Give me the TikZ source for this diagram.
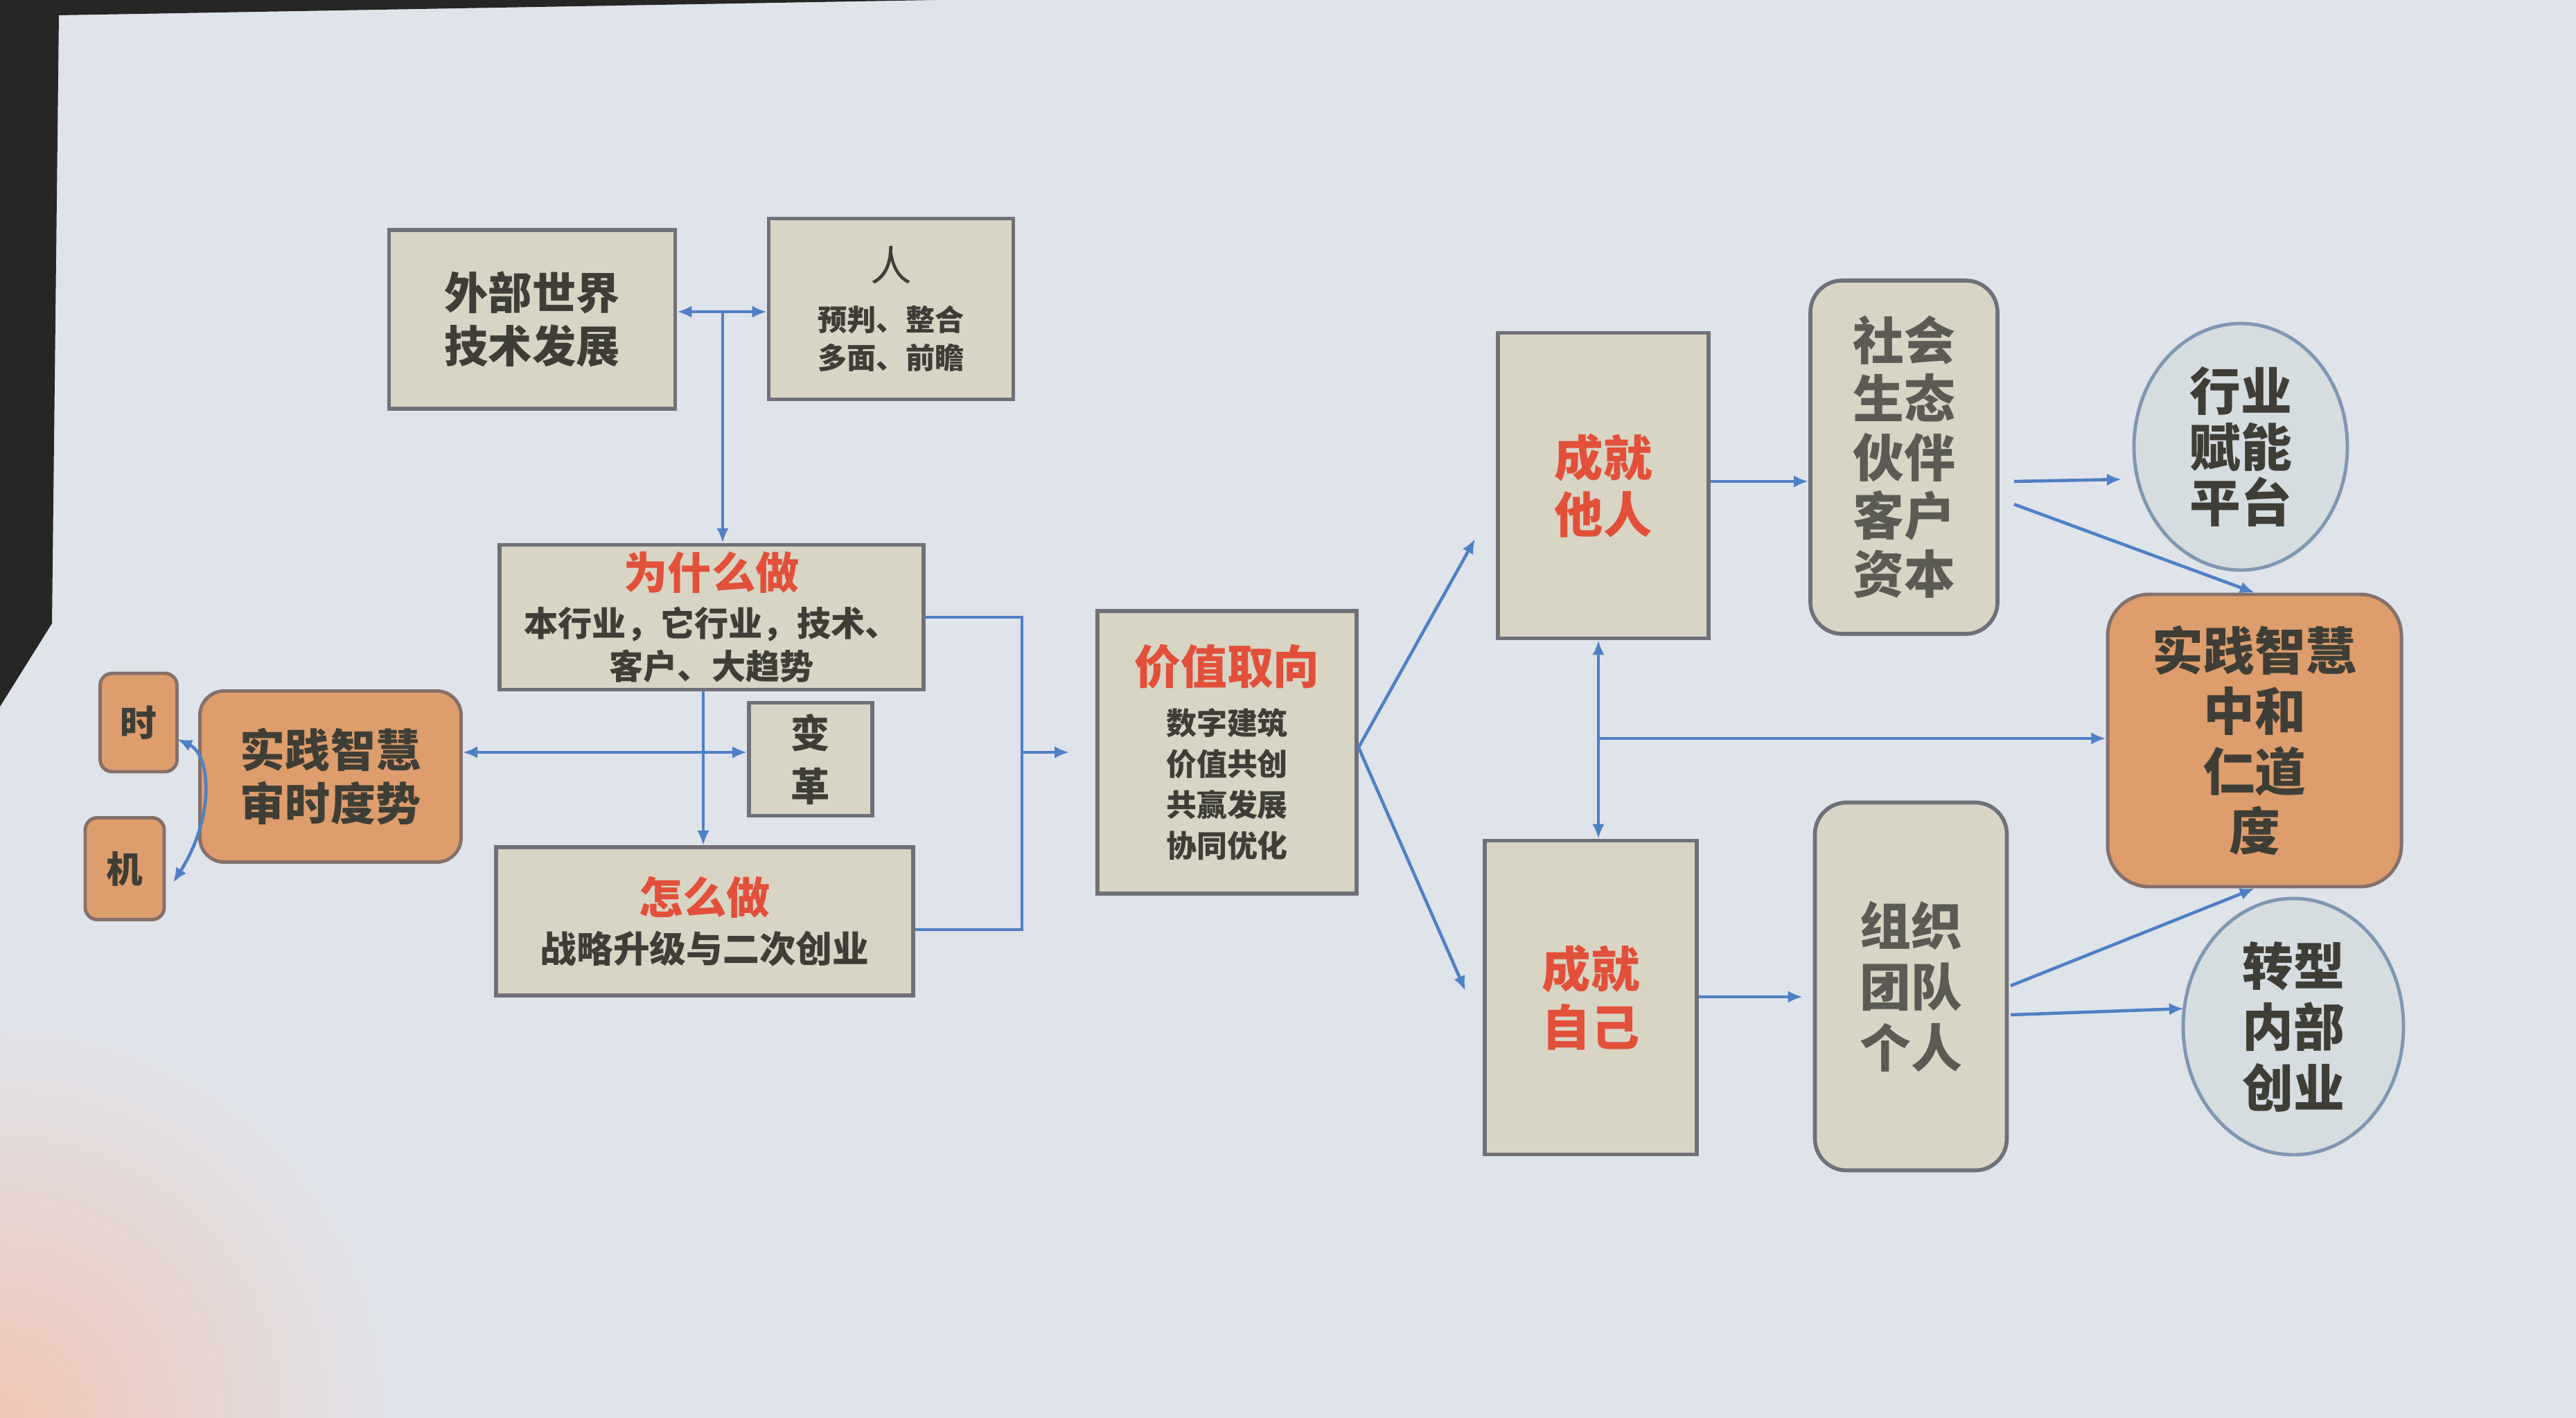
\documentclass[tikz,border=0pt]{standalone}
\usepackage{fontspec}
\setmainfont{Noto Sans CJK SC}
\usetikzlibrary{arrows.meta,shapes.geometric,calc}
\definecolor{bgc}{HTML}{DFE3EA}
\definecolor{glow}{HTML}{F0C6B6}
\definecolor{boxfill}{HTML}{D8D5C5}
\definecolor{boxline}{HTML}{707079}
\definecolor{orangefill}{HTML}{DE9D6C}
\definecolor{oline}{HTML}{85706A}
\definecolor{ellfill}{HTML}{D5DDE1}
\definecolor{ellline}{HTML}{7F97B2}
\definecolor{arrowc}{HTML}{4F80C4}
\definecolor{txt}{HTML}{3E3E36}
\definecolor{redt}{HTML}{E2503A}
\newcommand{\fsz}[2]{\fontsize{#1pt}{#2pt}\selectfont}
\tikzset{
  box/.style={draw=boxline, fill=boxfill, line width=1.6pt, inner sep=0pt, align=center, text=txt},
  rbox/.style={box, rounded corners=13pt},
  obox/.style={draw=oline, fill=orangefill, line width=1.4pt, inner sep=0pt, align=center, text=txt},
  ell/.style={ellipse, draw=ellline, fill=ellfill, line width=1.4pt, inner sep=0pt, align=center, text=txt},
  line/.style={draw=arrowc, line width=1.3pt},
  conn/.style={line, -{Latex[length=6pt,width=5pt]}},
  biconn/.style={line, {Latex[length=6pt,width=5pt]}-{Latex[length=6pt,width=5pt]}}
}
\begin{document}
\begin{tikzpicture}
\useasboundingbox (0,0) rectangle (37.18,-20.47);
\fill[bgc] (0,0) rectangle (37.18,-20.47);
\shade[inner color=glow, outer color=bgc] (0,-20.47) circle (5.8);
\fill[black!85] (0,0) -- (13.5,0) -- (0.85,-0.22) -- (0.75,-9.0) -- (0,-10.2) -- cycle;

% left part
\node[box, minimum width=4.13cm, minimum height=2.58cm, font=\bfseries\fsz{18}{22}] (wb) at (7.68,-4.61) {外部世界\\技术发展};
\node[box, minimum width=3.53cm, minimum height=2.61cm, font=\bfseries\fsz{12}{15.5}] (ren) at (12.86,-4.46)
  {{\mdseries\fsz{17}{19}人}\\[5pt]预判、整合\\多面、前瞻};
\node[box, minimum width=6.12cm, minimum height=2.09cm, font=\bfseries\fsz{14}{17.5}] (why) at (10.27,-8.91)
  {{\fsz{18}{20}\color{redt}为什么做}\\[2pt]本行业，它行业，技术、\\客户、大趋势};
\node[box, minimum width=1.78cm, minimum height=1.63cm, font=\bfseries\fsz{16}{22}] (bg) at (11.70,-10.96) {变\\革};
\node[box, minimum width=6.02cm, minimum height=2.14cm, font=\bfseries\fsz{15}{18}] (how) at (10.17,-13.30)
  {{\fsz{18}{21}\color{redt}怎么做}\\[2pt]战略升级与二次创业};
\node[obox, rounded corners=10pt, minimum width=3.77cm, minimum height=2.47cm, font=\bfseries\fsz{18.5}{22}] (sj) at (4.77,-11.21) {实践智慧\\审时度势};
\node[obox, rounded corners=5pt, minimum width=1.11cm, minimum height=1.42cm, font=\bfseries\fsz{15}{17}] (shi) at (2.00,-10.43) {时};
\node[obox, rounded corners=5pt, minimum width=1.14cm, minimum height=1.47cm, font=\bfseries\fsz{15}{17}] (ji) at (1.80,-12.54) {机};

% middle
\node[box, minimum width=3.74cm, minimum height=4.08cm, font=\bfseries\fsz{12.5}{16.8}] (jz) at (17.71,-10.86)
  {{\fsz{19}{21}\color{redt}价值取向}\\[4pt]数字建筑\\价值共创\\共赢发展\\协同优化};
\node[box, minimum width=3.04cm, minimum height=4.41cm, font=\bfseries\fsz{20}{23.5}, text=redt] (tr) at (23.14,-7.01) {成就\\他人};
\node[box, minimum width=3.06cm, minimum height=4.53cm, font=\bfseries\fsz{20}{24}, text=redt] (zj) at (22.96,-14.40) {成就\\自己};

% right
\node[rbox, minimum width=2.70cm, minimum height=5.10cm, font=\bfseries\fsz{21}{24}, text=txt!85] (sh) at (27.48,-6.60) {社会\\生态\\伙伴\\客户\\资本};
\node[rbox, minimum width=2.77cm, minimum height=5.31cm, font=\bfseries\fsz{21}{25}, text=txt!85] (zz) at (27.58,-14.24) {组织\\团队\\个人};
\node[ell, minimum width=3.08cm, minimum height=3.56cm, font=\bfseries\fsz{21}{23}] (hy) at (32.34,-6.45) {行业\\赋能\\平台};
\node[obox, rounded corners=17pt, minimum width=4.24cm, minimum height=4.22cm, font=\bfseries\fsz{21}{24.7}] (zh) at (32.54,-10.69) {实践智慧\\中和\\仁道\\度};
\node[ell, minimum width=3.18cm, minimum height=3.70cm, font=\bfseries\fsz{21}{25}] (zx) at (33.10,-14.82) {转型\\内部\\创业};

% connectors left
\coordinate (j1) at (10.43,-4.50);
\draw[conn] (j1) -- (j1 -| wb.east);
\draw[conn] (j1) -- (j1 -| ren.west);
\draw[conn] (j1) -- (j1 |- why.north);
\coordinate (v1) at (10.15,0);
\draw[conn] (v1 |- why.south) -- (v1 |- how.north);
\coordinate (h1) at (0,-10.86);
\draw[biconn] (h1 -| sj.east) -- (h1 -| bg.west);
\coordinate (c0) at (2.56,-10.67);
\coordinate (c1) at (2.50,-12.74);
\draw[biconn] (c0) .. controls (3.05,-10.9) and (3.1,-11.8) .. (c1);

% bracket to value node
\coordinate (bx) at (14.75,0);
\coordinate (hw) at ($(how.east)+(0,-0.12)$);
\draw[line] (why.east) -- (why.east -| bx) -- (bx |- hw) -- (hw);
\draw[conn, shorten >=0.38cm] (bx |- jz.west) -- (jz.west);

% value node to achievements
\coordinate (jo) at ($(jz.east)+(0,0.07)$);
\coordinate (e1) at (21.29,-7.78);
\coordinate (e2) at (21.15,-14.30);
\draw[conn] (jo) -- (e1);
\draw[conn] (jo) -- (e2);
\coordinate (h2) at (0,-6.95);
\draw[conn] (h2 -| tr.east) -- (h2 -| sh.west);
\coordinate (h3) at (0,-14.39);
\draw[conn, shorten >=0.15cm] (h3 -| zj.east) -- (h3 -| zz.west);
\coordinate (v2) at (23.07,0);
\draw[biconn] (v2 |- tr.south) -- (v2 |- zj.north);
\coordinate (h4) at (0,-10.66);
\draw[conn] (h4 -| v2) -- (h4 -| zh.west);

% right connectors
\coordinate (s1) at (29.07,-6.95);
\coordinate (s2) at (29.07,-7.28);
\coordinate (s3) at (29.02,-14.23);
\coordinate (s4) at (29.02,-14.65);
\coordinate (e3) at (30.62,-6.92);
\coordinate (e4) at (31.52,-14.56);
\draw[conn] (s1) -- (e3);
\draw[conn] (s2) -- (zh.north);
\draw[conn] (s3) -- (zh.south);
\draw[conn] (s4) -- (e4);
\end{tikzpicture}
\end{document}
